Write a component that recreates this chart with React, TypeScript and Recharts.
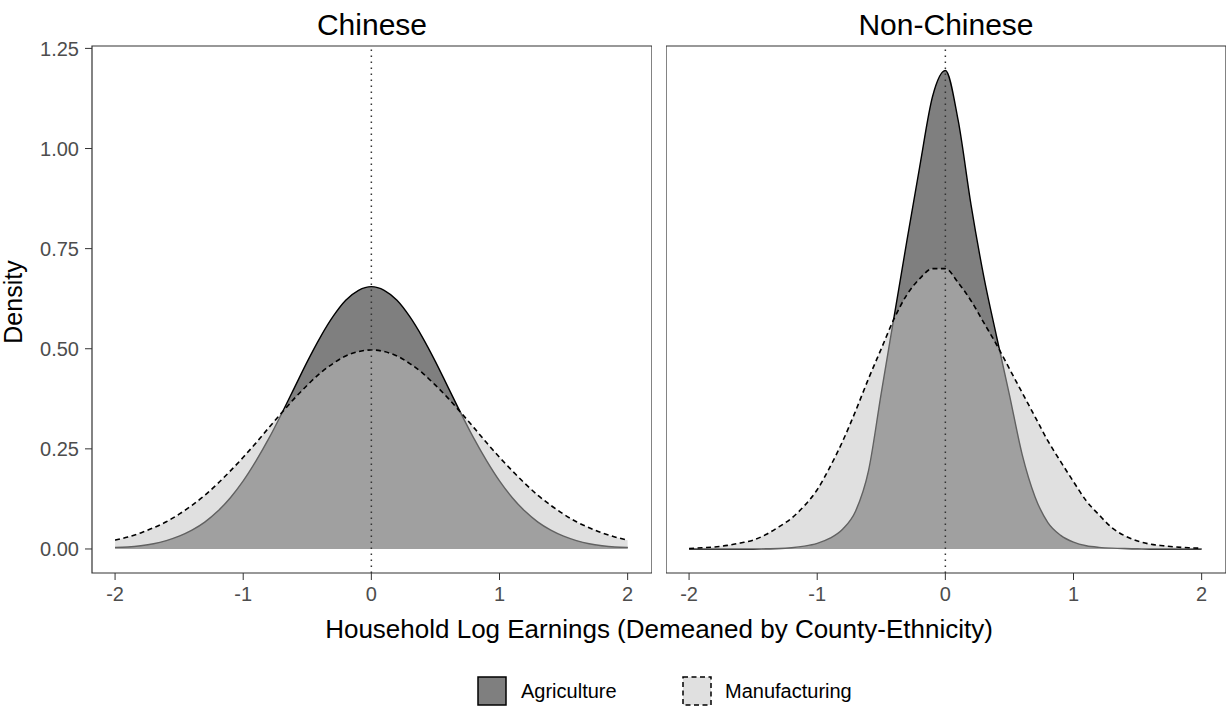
import { ComposedChart, Area, XAxis, YAxis, ReferenceLine, ReferenceArea } from "recharts"

// x grid of the density estimates (household log earnings, demeaned)
const earnings = [
  -2.0, -1.9, -1.8, -1.7, -1.6, -1.5, -1.4, -1.3, -1.2, -1.1, -1.0,
  -0.9, -0.8, -0.7, -0.6, -0.5, -0.4, -0.3, -0.2, -0.1, 0.0,
  0.1, 0.2, 0.3, 0.4, 0.5, 0.6, 0.7, 0.8, 0.9, 1.0,
  1.1, 1.2, 1.3, 1.4, 1.5, 1.6, 1.7, 1.8, 1.9, 2.0,
]

const chineseAgriculture = [
  0.004, 0.005, 0.008, 0.013, 0.021, 0.032, 0.047, 0.067, 0.094, 0.128, 0.17,
  0.22, 0.276, 0.338, 0.403, 0.468, 0.528, 0.58, 0.621, 0.646, 0.655,
  0.646, 0.621, 0.58, 0.528, 0.468, 0.403, 0.338, 0.276, 0.22, 0.17,
  0.128, 0.094, 0.067, 0.047, 0.032, 0.021, 0.013, 0.008, 0.005, 0.004,
]

const chineseManufacturing = [
  0.022, 0.03, 0.04, 0.053, 0.068, 0.087, 0.109, 0.134, 0.163, 0.195, 0.229,
  0.265, 0.303, 0.34, 0.376, 0.409, 0.439, 0.463, 0.482, 0.493, 0.497,
  0.493, 0.482, 0.463, 0.439, 0.409, 0.376, 0.34, 0.303, 0.265, 0.229,
  0.195, 0.163, 0.134, 0.109, 0.087, 0.068, 0.053, 0.04, 0.03, 0.022,
]

const nonChineseAgriculture = [
  0, 0, 0, 0, 0, 0, 0.0005, 0.001, 0.003, 0.007, 0.014,
  0.027, 0.05, 0.095, 0.195, 0.39, 0.58, 0.77, 0.955, 1.13, 1.195,
  1.07, 0.86, 0.68, 0.53, 0.385, 0.235, 0.13, 0.066, 0.034, 0.017,
  0.008, 0.004, 0.002, 0.001, 0.0005, 0, 0, 0, 0, 0,
]

const nonChineseManufacturing = [
  0.001, 0.003, 0.005, 0.009, 0.015, 0.022, 0.036, 0.055, 0.077, 0.108, 0.148,
  0.205, 0.27, 0.345, 0.425, 0.5, 0.575, 0.635, 0.675, 0.7, 0.7,
  0.665, 0.62, 0.565, 0.51, 0.45, 0.39, 0.33, 0.27, 0.218, 0.168,
  0.12, 0.085, 0.053, 0.033, 0.02, 0.012, 0.008, 0.005, 0.003, 0.002,
]

const panelTitles = ["Chinese", "Non-Chinese"]
const seriesNames = ["Agriculture", "Manufacturing"]
const xTicks = [-2, -1, 0, 1, 2]
const yTicks = [0, 0.25, 0.5, 0.75, 1, 1.25]

const FONT = "'Liberation Sans', Arial, Helvetica, sans-serif"
const X_DOMAIN: [number, number] = [-2.18, 2.19]
const Y_DOMAIN: [number, number] = [-0.06, 1.256]
const AGRI_FILL = "#000000"
const MANU_FILL = "#c1c1c1"

function buildRows(agri: number[], manu: number[]) {
  return earnings.map((x, i) => ({ x, agriculture: agri[i], manufacturing: manu[i] }))
}

function Panel({ rows, showY }: { rows: any[]; showY: boolean }) {
  return (
    <ComposedChart
      width={showY ? 652 : 560}
      height={623}
      data={rows}
      margin={{ top: 46, right: 0, bottom: 0, left: 0 }}
    >
      <XAxis
        type="number"
        dataKey="x"
        domain={X_DOMAIN}
        ticks={xTicks}
        allowDataOverflow
        axisLine={false}
        tickSize={7}
        tickMargin={7}
        height={50}
        tickLine={{ stroke: "#333333" }}
        tick={{ fill: "#4d4d4d", fontSize: 20, fontFamily: FONT }}
      />
      <YAxis
        type="number"
        domain={Y_DOMAIN}
        ticks={yTicks}
        allowDataOverflow
        hide={!showY}
        width={92}
        axisLine={false}
        tickSize={7}
        tickMargin={6}
        tickLine={{ stroke: "#333333" }}
        tickFormatter={(v: number) => v.toFixed(2)}
        tick={{ fill: "#4d4d4d", fontSize: 20, fontFamily: FONT }}
      />
      <Area
        type="monotone"
        dataKey="agriculture"
        baseValue={0}
        fill={AGRI_FILL}
        fillOpacity={0.5}
        stroke="#000000"
        strokeWidth={1.4}
        isAnimationActive={false}
        dot={false}
        activeDot={false}
      />
      <Area
        type="monotone"
        dataKey="manufacturing"
        baseValue={0}
        fill={MANU_FILL}
        fillOpacity={0.5}
        stroke="#000000"
        strokeWidth={1.6}
        strokeDasharray="5 3.5"
        isAnimationActive={false}
        dot={false}
        activeDot={false}
      />
      <ReferenceLine x={0} stroke="#333333" strokeWidth={1.5} strokeDasharray="1.5 4.5" />
      <ReferenceArea
        x1={X_DOMAIN[0]}
        x2={X_DOMAIN[1]}
        y1={Y_DOMAIN[0]}
        y2={Y_DOMAIN[1]}
        fill="none"
        stroke="#333333"
        strokeWidth={1.2}
        ifOverflow="visible"
      />
    </ComposedChart>
  )
}

export default function App() {
  return (
    <div style={{ position: "absolute", left: 0, top: 0, width: 1231, height: 707, background: "#fff", fontFamily: FONT }}>
      <div style={{ position: "absolute", left: 0, top: 0 }}>
        <Panel rows={buildRows(chineseAgriculture, chineseManufacturing)} showY />
      </div>
      <div style={{ position: "absolute", left: 666, top: 0 }}>
        <Panel rows={buildRows(nonChineseAgriculture, nonChineseManufacturing)} showY={false} />
      </div>
      <svg width={1231} height={707} style={{ position: "absolute", left: 0, top: 0, pointerEvents: "none" }}>
        <g fontFamily={FONT} fill="#000">
          <text x={372} y={35} fontSize={30} textAnchor="middle">{panelTitles[0]}</text>
          <text x={946} y={35} fontSize={30} textAnchor="middle">{panelTitles[1]}</text>
          <text x={659} y={638} fontSize={26} textAnchor="middle">
            Household Log Earnings (Demeaned by County-Ethnicity)
          </text>
          <text transform="translate(22,302) rotate(-90)" fontSize={25} textAnchor="middle">Density</text>
          <rect x={478} y={677} width={28} height={28} fill={AGRI_FILL} fillOpacity={0.5} stroke="#000" strokeWidth={1.5} />
          <text x={521} y={698} fontSize={20}>{seriesNames[0]}</text>
          <rect x={683} y={677} width={28} height={28} fill={MANU_FILL} fillOpacity={0.5} stroke="#000" strokeWidth={1.5} strokeDasharray="5 3.5" />
          <text x={725} y={698} fontSize={20}>{seriesNames[1]}</text>
        </g>
      </svg>
    </div>
  )
}
